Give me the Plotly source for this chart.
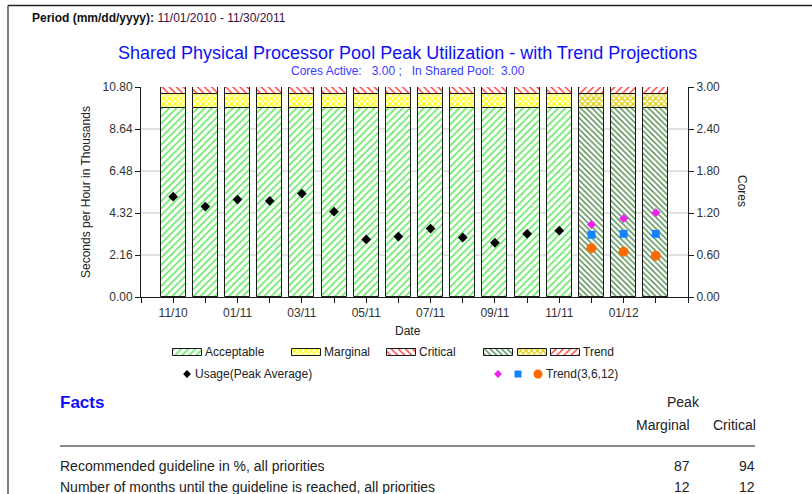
import plotly.graph_objects as go

W, H = 812, 494
FONT = "Liberation Sans, Arial, sans-serif"

# ---- data -------------------------------------------------------------
months = ["11/10", "12/10", "01/11", "02/11", "03/11", "04/11", "05/11", "06/11",
          "07/11", "08/11", "09/11", "10/11", "11/11", "12/11", "01/12", "02/12"]
n_actual = 13  # first 13 months measured, last 3 are trend

# zone limits, thousands of seconds per hour (3 cores = 10.80)
acceptable_top = 9.72
marginal_top = 10.44
capacity = 10.80

usage = [5.16, 4.65, 5.01, 4.94, 5.32, 4.39, 2.96, 3.11, 3.52, 3.06, 2.79, 3.25, 3.41]
trend_3 = [3.73, 4.04, 4.33]
trend_6 = [3.20, 3.25, 3.25]
trend_12 = [2.51, 2.33, 2.12]

left_ticks = [0, 2.16, 4.32, 6.48, 8.64, 10.80]
core_ticks = [0, 0.6, 1.2, 1.8, 2.4, 3.0]

facts_rows = ["Recommended guideline in %, all priorities",
              "Number of months until the guideline is reached, all priorities"]
facts_marginal = [87, 12]
facts_critical = [94, 12]


def px(x):
    return x / W


def py(y):
    return 1 - y / H


pos = list(range(len(months)))
act_x = pos[:n_actual]
trd_x = pos[n_actual:]

# pattern styles: (actual, trend)
zones = [
    ("Acceptable", 0.0, acceptable_top,
     dict(shape="/", fgcolor="#5fea5f", size=5, solidity=0.32),
     dict(shape="\\", fgcolor="#3f8540", size=4, solidity=0.33)),
    ("Marginal", acceptable_top, marginal_top,
     dict(shape="x", fgcolor="#ffff00", size=4, solidity=0.55),
     dict(shape="x", fgcolor="#e0cc00", size=4, solidity=0.55)),
    ("Critical", marginal_top, capacity,
     dict(shape="\\", fgcolor="#ff3030", size=5, solidity=0.28),
     dict(shape="/", fgcolor="#ff3030", size=5, solidity=0.28)),
]

fig = go.Figure()

for name, lo, hi, pat_a, pat_t in zones:
    for xs, pat in ((act_x, pat_a), (trd_x, pat_t)):
        fig.add_trace(go.Bar(
            x=xs, y=[hi - lo] * len(xs), base=[lo] * len(xs), width=0.78,
            marker=dict(color="white", opacity=1, line=dict(color="#1a1a1a", width=1),
                        pattern=dict(bgcolor="white", fgopacity=1, **pat)),
            showlegend=False, hoverinfo="skip"))

fig.add_trace(go.Scatter(x=act_x, y=usage, mode="markers",
                         marker=dict(symbol="diamond", size=7.5, color="black"),
                         showlegend=False))
fig.add_trace(go.Scatter(x=trd_x, y=trend_3, mode="markers",
                         marker=dict(symbol="diamond", size=7, color="#f020f0"),
                         showlegend=False))
fig.add_trace(go.Scatter(x=trd_x, y=trend_6, mode="markers",
                         marker=dict(symbol="square", size=8, color="#1184ff"),
                         showlegend=False))
fig.add_trace(go.Scatter(x=trd_x, y=trend_12, mode="markers",
                         marker=dict(symbol="circle", size=10, color="#ff6a00"),
                         showlegend=False))
# keeps the cores axis alive
fig.add_trace(go.Scatter(x=[None], y=[None], yaxis="y2", showlegend=False))

# ---- hand-made legend on a pixel overlay -------------------------------
swatches = [(173, zones[0][3]), (292, zones[1][3]), (387, zones[2][3]),
            (484, zones[0][4]), (518, zones[1][4]), (551, zones[2][4])]
for left, pat in swatches:
    fig.add_trace(go.Bar(
        orientation="h", y=[352.5], x=[29], base=[left], width=[7],
        marker=dict(color="white", opacity=1, line=dict(color="#1a1a1a", width=1),
                    pattern=dict(bgcolor="white", fgopacity=1, **pat)),
        xaxis="x3", yaxis="y3", showlegend=False, hoverinfo="skip"))

for xm, sym, size, col in [(187, "diamond", 6, "black"), (498, "diamond", 6, "#f020f0"),
                           (518, "square", 7, "#1184ff"), (538, "circle", 9, "#ff6a00")]:
    fig.add_trace(go.Scatter(x=[xm], y=[374], mode="markers",
                             marker=dict(symbol=sym, size=size, color=col),
                             xaxis="x3", yaxis="y3", showlegend=False))

ann = []


def text(x, y, s, size=12, color="#222", anchor="left", angle=0):
    ann.append(dict(x=px(x), y=py(y), xref="paper", yref="paper", text=s,
                    showarrow=False, xanchor=anchor, yanchor="middle",
                    textangle=angle, font=dict(family=FONT, size=size, color=color)))


for x0, lab in [(203, "Acceptable"), (322, "Marginal"), (417, "Critical"),
                (581, "Trend")]:
    text(x0, 352, lab)
text(193, 374, "Usage(Peak Average)")
text(544, 374, "Trend(3,6,12)")

# header
text(30, 18, "<b>Period (mm/dd/yyyy):</b> <span style='color:#3a1040'>11/01/2010 - 11/30/2011</span>",
     size=12, color="#111")
text(407, 53, "Shared Physical Processor Pool Peak Utilization - with Trend Projections",
     size=18, color="#1010f5", anchor="center")
text(408, 71, "Cores Active:\u00a0\u00a0 3.00 ;\u00a0\u00a0 In Shared Pool:\u00a0 3.00",
     size=12, color="#3a3aff", anchor="center")

# axis titles
text(86, 192, "Seconds per Hour in Thousands", anchor="center", angle=-90)
text(742, 191, "Cores", anchor="center", angle=90)
text(408, 331, "Date", anchor="center")

# facts block
text(58, 402, "<b>Facts</b>", size=17, color="#1010f5")
text(683, 402, "Peak", size=14, anchor="center")
text(663, 425, "Marginal", size=14, anchor="center")
text(734, 425, "Critical", size=14, anchor="center")
for i, row in enumerate(facts_rows):
    yy = 466 + 21 * i
    text(58, yy, row, size=14)
    text(692, yy, str(facts_marginal[i]), size=14, anchor="right")
    text(757, yy, str(facts_critical[i]), size=14, anchor="right")

shapes = [
    dict(type="line", xref="paper", yref="paper", x0=px(60), x1=px(755),
         y0=py(446), y1=py(446), line=dict(color="#8a8a8a", width=2)),
    dict(type="line", xref="paper", yref="paper", x0=px(8), x1=px(8),
         y0=py(5.5), y1=0, line=dict(color="#555", width=1.5)),
    dict(type="line", xref="paper", yref="paper", x0=px(8), x1=1,
         y0=py(5.5), y1=py(5.5), line=dict(color="#222", width=1.5)),
]

tick_font = dict(family=FONT, size=12, color="#333")
fig.update_layout(
    width=W, height=H,
    margin=dict(l=0, r=0, t=0, b=0, pad=0, autoexpand=False),
    paper_bgcolor="white", plot_bgcolor="rgba(0,0,0,0)",
    barmode="overlay", bargap=0,
    annotations=ann, shapes=shapes,
    xaxis=dict(domain=[px(141), px(688)], range=[-1, 16], anchor="y", automargin=False,
               tickvals=[-1] + pos + [16],
               ticktext=[""] + [m if i % 2 == 0 else "" for i, m in enumerate(months)] + [""],
               ticks="outside", ticklen=5, tickcolor="#1a1a1a", showline=True,
               linecolor="#1a1a1a", showgrid=False, zeroline=False, tickfont=tick_font),
    yaxis=dict(domain=[py(297), py(87)], range=[0, capacity], anchor="x", automargin=False,
               tickvals=left_ticks, tickformat=".2f", ticks="outside", ticklen=5,
               tickcolor="#1a1a1a", showline=True, linecolor="#1a1a1a",
               showgrid=True, gridcolor="#e2e2e2", gridwidth=1.5, zeroline=False,
               tickfont=tick_font),
    yaxis2=dict(overlaying="y", side="right", anchor="x", range=[0, 3], automargin=False,
                tickvals=core_ticks, tickformat=".2f", ticks="outside", ticklen=5,
                tickcolor="#1a1a1a", showline=True, linecolor="#1a1a1a",
                showgrid=False, zeroline=False, tickfont=tick_font),
    xaxis3=dict(domain=[0, 1], range=[0, W], anchor="y3", visible=False, automargin=False),
    yaxis3=dict(domain=[0, 1], range=[H, 0], anchor="x3", visible=False, automargin=False),
)

fig.write_html("out.html", config={"displayModeBar": False},
               post_script="document.body.style.margin='0';")
